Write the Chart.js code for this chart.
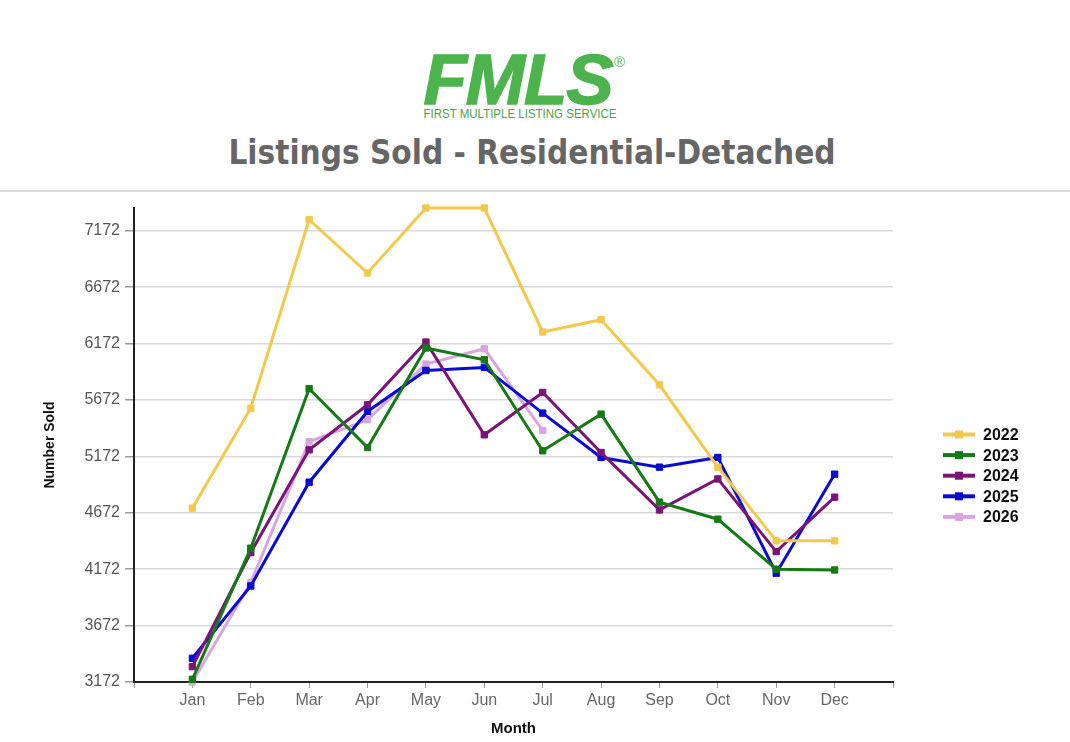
<!DOCTYPE html>
<html>
<head>
<meta charset="utf-8">
<title>Listings Sold - Residential-Detached</title>
<script src="https://cdn.jsdelivr.net/npm/chart.js@4.4.1/dist/chart.umd.min.js"></script>
<style>
    html, body { margin: 0; padding: 0; background: #fff; }
    body { width: 1070px; height: 742px; position: relative; overflow: hidden; font-family: "Liberation Sans", Arial, sans-serif; }
    #logo { position: absolute; left: 318px; width: 400px; top: 44px; text-align: center; font-size: 71px; line-height: 71px; font-weight: bold; font-style: italic; color: #4db34d; letter-spacing: -1px; -webkit-text-stroke: 1.5px #4db34d; }
    #reg { position: absolute; left: 614px; top: 54px; font-size: 15px; line-height: 15px; color: #4db34d; }
    #tagline { position: absolute; left: 320px; width: 400px; top: 108px; text-align: center; font-size: 12.5px; line-height: 13px; color: #4aa34a; transform: scaleX(0.92); }
    #title { position: absolute; left: 132px; width: 800px; top: 136px; text-align: center; font-family: "DejaVu Sans Condensed", "DejaVu Sans", sans-serif; font-size: 33px; line-height: 33px; font-weight: bold; color: #666; }
    #rule { position: absolute; left: 0; top: 190px; width: 1070px; height: 2px; background: #dcdcdc; }
    #chartBox { position: absolute; left: 0; top: 192px; width: 1070px; height: 550px; }
</style>
</head>
<body>
<div id="logo">FMLS</div>
<div id="reg">®</div>
<div id="tagline">FIRST MULTIPLE LISTING SERVICE</div>
<div id="title">Listings Sold - Residential-Detached</div>
<div id="rule"></div>
<div id="chartBox"><canvas id="soldChart" width="1070" height="550"></canvas></div>

<script>
// Listings sold per month
const months = ['Jan', 'Feb', 'Mar', 'Apr', 'May', 'Jun', 'Jul', 'Aug', 'Sep', 'Oct', 'Nov', 'Dec'];
const yearLabels = ['2022', '2023', '2024', '2025', '2026'];
const yTicks = [3172, 3672, 4172, 4672, 5172, 5672, 6172, 6672, 7172];

const sold2022 = [4713, 5599, 7269, 6797, 7373, 7373, 6274, 6383, 5806, 5076, 4423, 4423];
const sold2023 = [3196, 4358, 5771, 5250, 6132, 6028, 5221, 5546, 4766, 4615, 4172, 4165];
const sold2024 = [3308, 4319, 5230, 5629, 6185, 5363, 5738, 5206, 4697, 4972, 4328, 4810];
const sold2025 = [3382, 4023, 4943, 5570, 5933, 5960, 5555, 5162, 5076, 5162, 4136, 5014];
const sold2026 = [3172, 4053, 5303, 5496, 5990, 6125, 5401];

const seriesValues = [sold2022, sold2023, sold2024, sold2025, sold2026];
const seriesColors = ['#f2c94c', '#157a15', '#7a1478', '#0a0ad2', '#d7a5df'];

// Legend drawn at the right, like the original
const sideLegend = {
    id: 'sideLegend',
    afterDraw(chart) {
        const ctx = chart.ctx;
        ctx.save();
        chart.data.datasets.forEach((ds, i) => {
            const y = 242.5 + i * 20.6;
            ctx.strokeStyle = ds.borderColor;
            ctx.lineWidth = 4;
            ctx.beginPath();
            ctx.moveTo(943, y);
            ctx.lineTo(975, y);
            ctx.stroke();
            ctx.fillStyle = ds.borderColor;
            ctx.fillRect(955, y - 4, 8, 8);
            ctx.fillStyle = '#111';
            ctx.font = 'bold 16px "Liberation Sans", Arial, sans-serif';
            ctx.textBaseline = 'middle';
            ctx.fillText(ds.label, 983, y + 1);
        });
        ctx.restore();
    }
};

function buildDatasets() {
    return seriesValues.map((values, i) => ({
        label: yearLabels[i],
        data: values.map((v, m) => ({ x: m + 1, y: v })),
        borderColor: seriesColors[i],
        backgroundColor: seriesColors[i],
        borderWidth: 3,
        tension: 0,
        clip: false,
        pointStyle: 'rect',
        pointRadius: 4.5,
        pointBorderWidth: 1
    }));
}

new Chart(document.getElementById('soldChart'), {
    type: 'line',
    data: { datasets: buildDatasets() },
    plugins: [sideLegend],
    options: {
        responsive: false,
        animation: false,
        layout: { padding: { top: 16, right: 177, left: 0, bottom: 0 } },
        plugins: {
            legend: { display: false },
            tooltip: { enabled: false }
        },
        scales: {
            x: {
                type: 'linear',
                min: 0,
                max: 13,
                afterFit: s => { s.height = 60; },
                ticks: {
                    stepSize: 1,
                    autoSkip: false,
                    maxRotation: 0,
                    padding: 3,
                    color: '#666',
                    font: { size: 16, family: '"Liberation Sans", Arial, sans-serif' },
                    callback: v => months[v - 1] || ''
                },
                grid: { drawOnChartArea: false, drawTicks: true, tickLength: 6, tickColor: '#999' },
                border: { color: '#222', width: 2 },
                title: {
                    display: true,
                    text: 'Month',
                    color: '#111',
                    font: { size: 15, weight: 'bold', family: '"Liberation Sans", Arial, sans-serif' },
                    padding: { top: 0, bottom: 4 }
                }
            },
            y: {
                min: 3172,
                max: 7373,
                afterFit: s => { s.width = 134; },
                afterBuildTicks: s => { s.ticks = yTicks.map(v => ({ value: v })); },
                ticks: {
                    padding: 5,
                    color: '#555',
                    font: { size: 16, family: '"Liberation Sans", Arial, sans-serif' },
                    callback: v => String(v)
                },
                grid: { color: '#d9d9d9', lineWidth: 1.5, tickLength: 9, tickColor: '#999' },
                border: { color: '#222', width: 2 },
                title: {
                    display: true,
                    text: 'Number Sold',
                    color: '#111',
                    font: { size: 14, weight: 'bold', family: '"Liberation Sans", Arial, sans-serif' },
                    padding: { top: 42, bottom: 0 }
                }
            }
        }
    }
});
</script>
</body>
</html>
